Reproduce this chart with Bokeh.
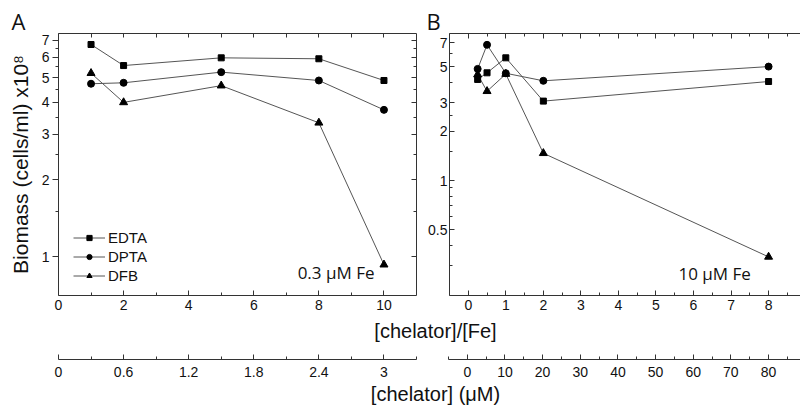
from bokeh.plotting import figure
from bokeh.layouts import column, row
from bokeh.models import (Range1d, FixedTicker, LinearAxis, LogAxis, Label,
                          Legend, LegendItem, NumeralTickFormatter)
from bokeh.embed import file_html
from bokeh.resources import INLINE

# ---------------- data ----------------
series_names = ["EDTA", "DPTA", "DFB"]
series_markers = ["square", "circle", "triangle"]

# Panel A: 0.3 uM Fe
ratio_a = [1, 2, 5, 8, 10]
edta_a = [6.73, 5.57, 5.97, 5.92, 4.87]
dpta_a = [4.73, 4.77, 5.25, 4.87, 3.74]
dfb_a = [5.2, 4.0, 4.65, 3.33, 0.93]

# Panel B: 10 uM Fe
ratio_b = [0.25, 0.5, 1, 2, 8]
edta_b = [4.17, 4.58, 5.66, 3.07, 4.05]
dpta_b = [4.84, 6.8, 4.55, 4.09, 5.0]
dfb_b = [4.47, 3.53, 4.5, 1.47, 0.34]

fe_a = 0.3   # uM
fe_b = 10    # uM

# ticks
ya_major = [1, 2, 3, 4, 5, 6, 7]
ya_minor = [1.5, 2.5, 3.5, 4.5, 5.5, 6.5]
yb_major = [0.5, 1, 2, 3, 5, 7]
yb_minor = [0.3, 0.4, 0.6, 0.7, 0.8, 0.9, 1.5, 2.5, 4, 6]
xa_major = [0, 2, 4, 6, 8, 10]
xa_minor = [1, 3, 5, 7, 9]
xb_major = [0, 1, 2, 3, 4, 5, 6, 7, 8]
xb_minor = [-0.5, 0.5, 1.5, 2.5, 3.5, 4.5, 5.5, 6.5, 7.5, 8.5]
ca_major = [0, 0.6, 1.2, 1.8, 2.4, 3]
ca_minor = [0.3, 0.9, 1.5, 2.1, 2.7, 3.3]
cb_major = [0, 10, 20, 30, 40, 50, 60, 70, 80]
cb_minor = [-5, 5, 15, 25, 35, 45, 55, 65, 75, 85]

xa_range = (0, 11)
ya_range = (0.705, 7.43)
xb_range = (-0.5, 8.85)
yb_range = (0.197, 7.98)

# ---------------- layout constants ----------------
A_W, B_W, TOP_H = 425, 375, 317
A_LB, A_RB, B_LB, B_RB = 58, 9, 23, 0
TOP_B, BOT_B = 33, 22
BOT_H = 88
AX = "#333333"
TXT = "#111111"
FONT = "Liberation Sans"
LINE = "#555555"


def style_axis(ax, major, minor, tin, tout, labels=True, fmt="0.[0]"):
    ax.ticker = FixedTicker(ticks=major, minor_ticks=minor)
    ax.axis_line_color = AX
    ax.axis_line_width = 1
    ax.major_tick_line_color = AX
    ax.minor_tick_line_color = AX
    ax.major_tick_in = tin
    ax.major_tick_out = tout
    ax.minor_tick_in = 3 if tin else 0
    ax.minor_tick_out = 3 if tout else 0
    ax.formatter = NumeralTickFormatter(format=fmt)
    if labels:
        ax.major_label_text_font = FONT
        ax.major_label_text_font_size = "14px"
        ax.major_label_text_color = TXT
        ax.major_label_standoff = 4
    else:
        ax.major_label_text_font_size = "0px"
        ax.major_label_text_color = None
        ax.major_label_standoff = 0


def make_panel(width, xr, yr, lb, rb, letter, offset):
    p = figure(width=width, height=TOP_H, x_range=Range1d(*xr), y_range=Range1d(*yr),
               y_axis_type="log", output_backend="svg", toolbar_location=None,
               min_border_left=lb, min_border_right=rb,
               min_border_top=TOP_B, min_border_bottom=BOT_B)
    p.grid.visible = False
    p.outline_line_color = None
    p.background_fill_color = "white"
    p.border_fill_color = "white"
    p.title.text = letter
    p.title.align = "left"
    p.title.offset = offset
    p.title.standoff = -4
    p.title.text_font = "Open Sans"
    p.title.text_font_size = "22px"
    p.title.text_font_style = "normal"
    p.title.text_color = TXT
    return p


def add_series(p, xs, ys_list):
    lines, scats = [], []
    for ys in ys_list:
        lines.append(p.line(xs, ys, line_color=LINE, line_width=1))
    sizes = {"square": 6, "circle": 7, "triangle": 8}
    for ys, m in zip(ys_list, series_markers):
        scats.append(p.scatter(xs, ys, marker=m, size=sizes[m],
                               fill_color="black", line_color="black"))
    return lines, scats


# ---------------- panel A ----------------
pa = make_panel(A_W, xa_range, ya_range, A_LB, A_RB, "A", -47)
style_axis(pa.xaxis[0], xa_major, xa_minor, 5, 0)
style_axis(pa.yaxis[0], ya_major, ya_minor, 0, 6)
pa.yaxis[0].axis_label = "Biomass (cells/ml) x10⁸"
pa.yaxis[0].axis_label_text_font = FONT
pa.yaxis[0].axis_label_text_font_size = "21px"
pa.yaxis[0].axis_label_text_font_style = "normal"
pa.yaxis[0].axis_label_text_color = TXT
pa.yaxis[0].axis_label_standoff = 7
pa.yaxis[0].major_label_standoff = 3

top_a = LinearAxis()
style_axis(top_a, xa_major, xa_minor, 4, 0, labels=False)
top_a.minor_tick_in = 4
pa.add_layout(top_a, "above")
right_a = LogAxis()
style_axis(right_a, ya_major, ya_minor, 5, 0, labels=False)
pa.add_layout(right_a, "right")

lines_a, scats_a = add_series(pa, ratio_a, [edta_a, dpta_a, dfb_a])
legend = Legend(items=[LegendItem(label=n, renderers=[l, s])
                       for n, l, s in zip(series_names, lines_a, scats_a)],
                location=(15, 10), orientation="vertical", glyph_width=32,
                glyph_height=13, label_height=19, label_standoff=3, spacing=0,
                padding=0, margin=0, border_line_color=None, background_fill_alpha=0,
                label_text_font=FONT, label_text_font_size="15px",
                label_text_color=TXT)
pa.add_layout(legend)

pa.add_layout(Label(x=316, y=23, x_units="screen", y_units="screen",
                    text="%s μM Fe" % fe_a, text_font="Open Sans", text_font_size="17px",
                    text_color=TXT, text_align="right", text_baseline="alphabetic"))

# ---------------- panel B ----------------
pb = make_panel(B_W, xb_range, yb_range, B_LB, B_RB, "B", -23)
style_axis(pb.xaxis[0], xb_major, xb_minor, 5, 0)
style_axis(pb.yaxis[0], yb_major, yb_minor, 5, 0)
pb.yaxis[0].major_label_standoff = 2
top_b = LinearAxis()
style_axis(top_b, xb_major, xb_minor, 5, 0, labels=False)
pb.add_layout(top_b, "above")

add_series(pb, ratio_b, [edta_b, dpta_b, dfb_b])
pb.add_layout(Label(x=229, y=22, x_units="screen", y_units="screen",
                    text="%d μM Fe" % fe_b, text_font="Open Sans", text_font_size="17px",
                    text_color=TXT, text_align="left", text_baseline="alphabetic"))

# ---------------- bottom: concentration axes and axis titles ----------------
a_left = A_LB
a_right = A_W - A_RB
b_left = A_W + B_LB
b_right = A_W + B_W - B_RB
ppu_a = (a_right - a_left) / (xa_range[1] - xa_range[0])
ppu_b = (b_right - b_left) / (xb_range[1] - xb_range[0])
ca_rng = ((xa_range[0] - a_left / ppu_a) * fe_a,
          (xa_range[1] + (b_right - a_right) / ppu_a) * fe_a)
cb_rng = ((xb_range[0] - b_left / ppu_b) * fe_b, xb_range[1] * fe_b)

pc = figure(width=A_W + B_W, height=BOT_H, x_range=Range1d(0, A_W + B_W),
            y_range=Range1d(0, BOT_H), output_backend="svg", toolbar_location=None,
            min_border=0, x_axis_location=None, y_axis_location=None)
pc.outline_line_color = None
pc.grid.visible = False
pc.extra_x_ranges = {"ca": Range1d(*ca_rng), "cb": Range1d(*cb_rng)}

axis_y = BOT_H - (359 - TOP_H)
ax_ca = LinearAxis(x_range_name="ca", fixed_location=axis_y,
                   bounds=(xa_range[0] * fe_a, xa_range[1] * fe_a))
style_axis(ax_ca, ca_major, ca_minor, 5, 0)
ax_ca.major_label_standoff = 7
pc.add_layout(ax_ca, "below")
ax_cb = LinearAxis(x_range_name="cb", fixed_location=axis_y,
                   bounds=(xb_range[0] * fe_b, xb_range[1] * fe_b))
style_axis(ax_cb, cb_major, cb_minor, 5, 0)
ax_cb.major_label_standoff = 7
pc.add_layout(ax_cb, "below")

pc.add_layout(Label(x=435, y=75, x_units="screen", y_units="screen",
                    text="[chelator]/[Fe]", text_font=FONT, text_font_size="20px",
                    text_color=TXT, text_align="center", text_baseline="alphabetic"))
pc.add_layout(Label(x=435, y=12, x_units="screen", y_units="screen",
                    text="[chelator] (μM)", text_font=FONT, text_font_size="20px",
                    text_color=TXT, text_align="center", text_baseline="alphabetic"))

layout = column(row(pa, pb, spacing=0), pc, spacing=0)
open("out.html", "w").write(file_html(layout, INLINE))
